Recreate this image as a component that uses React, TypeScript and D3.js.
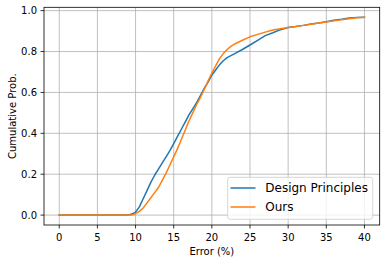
import React from "react";
import * as d3 from "d3";

const designX = [0, 9, 9.5, 10, 10.5, 11, 11.5, 12, 12.5, 13, 13.5, 14, 14.5, 15, 15.5, 16, 16.5, 17, 17.5, 18, 18.5, 19, 19.5, 20, 20.5, 21, 21.5, 22, 23, 24, 25, 26, 27, 28, 29, 30, 31, 32, 33, 34, 35, 36, 37, 38, 39, 40];
const designY = [0, 0, 0.005, 0.015, 0.04, 0.08, 0.12, 0.16, 0.195, 0.225, 0.255, 0.285, 0.315, 0.35, 0.385, 0.42, 0.455, 0.49, 0.52, 0.55, 0.585, 0.62, 0.65, 0.685, 0.71, 0.735, 0.755, 0.77, 0.79, 0.81, 0.832, 0.855, 0.878, 0.892, 0.907, 0.918, 0.922, 0.928, 0.935, 0.94, 0.946, 0.953, 0.958, 0.964, 0.967, 0.968];

const oursX = [0, 9.5, 10, 10.5, 11, 11.5, 12, 12.5, 13, 13.5, 14, 14.5, 15, 15.5, 16, 16.5, 17, 17.5, 18, 18.5, 19, 19.5, 20, 20.5, 21, 21.5, 22, 22.5, 23, 24, 25, 26, 27, 28, 29, 30, 31, 32, 33, 34, 35, 36, 37, 38, 39, 40];
const oursY = [0, 0, 0.007, 0.018, 0.035, 0.06, 0.085, 0.11, 0.135, 0.17, 0.205, 0.245, 0.285, 0.325, 0.37, 0.415, 0.46, 0.5, 0.54, 0.575, 0.615, 0.655, 0.695, 0.73, 0.765, 0.79, 0.81, 0.825, 0.837, 0.855, 0.872, 0.884, 0.895, 0.905, 0.912, 0.918, 0.923, 0.928, 0.933, 0.94, 0.945, 0.95, 0.955, 0.96, 0.965, 0.967];

const xTicks = [0, 5, 10, 15, 20, 25, 30, 35, 40];
const yTicks = [0.0, 0.2, 0.4, 0.6, 0.8, 1.0];
const seriesNames = ["Design Principles", "Ours"];
const colors = ["#1f77b4", "#ff7f0e"];

export default function App() {
  const W = 386, H = 263;
  const left = 44, right = 379.7, top = 7.3, bottom = 225;
  const x = d3.scaleLinear().domain([-2, 42]).range([left, right]);
  const y = d3.scaleLinear().domain([-0.0484, 1.0164]).range([bottom, top]);
  const line = d3.line<[number, number]>().x(d => x(d[0])).y(d => y(d[1]));
  const series = [
    designX.map((v, i) => [v, designY[i]] as [number, number]),
    oursX.map((v, i) => [v, oursY[i]] as [number, number]),
  ];
  const font = "DejaVu Sans, sans-serif";
  const legX = 227.7, legY = 177.3, legW = 145, legH = 42;
  return (
    <svg width={W} height={H} style={{ position: "absolute", left: 0, top: 0, background: "#fff" }} fontFamily={font}>
      <rect x={0} y={0} width={W} height={H} fill="#fff" />
      {xTicks.map(t => (
        <line key={"gx" + t} x1={x(t)} x2={x(t)} y1={top} y2={bottom} stroke="#b0b0b0" strokeWidth={0.8} />
      ))}
      {yTicks.map(t => (
        <line key={"gy" + t} x1={left} x2={right} y1={y(t)} y2={y(t)} stroke="#b0b0b0" strokeWidth={0.8} />
      ))}
      {series.map((s, i) => (
        <path key={i} d={line(s) || ""} fill="none" stroke={colors[i]} strokeWidth={1.5} strokeLinejoin="round" strokeLinecap="square" />
      ))}
      <rect x={left} y={top} width={right - left} height={bottom - top} fill="none" stroke="#000" strokeWidth={0.8} />
      {xTicks.map(t => (
        <g key={"tx" + t}>
          <line x1={x(t)} x2={x(t)} y1={bottom} y2={bottom + 3.5} stroke="#000" strokeWidth={0.8} />
          <text x={x(t)} y={240.5} fontSize={10} textAnchor="middle" fill="#000">{t}</text>
        </g>
      ))}
      {yTicks.map(t => (
        <g key={"ty" + t}>
          <line x1={left - 3.5} x2={left} y1={y(t)} y2={y(t)} stroke="#000" strokeWidth={0.8} />
          <text x={37} y={y(t) + 3.6} fontSize={10} textAnchor="end" fill="#000">{t.toFixed(1)}</text>
        </g>
      ))}
      <text x={(left + right) / 2} y={254.5} fontSize={10} textAnchor="middle" fill="#000">Error (%)</text>
      <text transform={`translate(15.5, ${(top + bottom) / 2}) rotate(-90)`} fontSize={10} textAnchor="middle" fill="#000">Cumulative Prob.</text>
      <rect x={legX} y={legY} width={legW} height={legH} rx={2.5} fill="#fff" fillOpacity={0.8} stroke="#cccccc" strokeWidth={0.8} />
      {seriesNames.map((n, i) => (
        <g key={n}>
          <line x1={230.5} x2={255.5} y1={188 + i * 19} y2={188 + i * 19} stroke={colors[i]} strokeWidth={1.5} />
          <text x={265.3} y={188 + i * 19 + 4.4} fontSize={12} fill="#000">{n}</text>
        </g>
      ))}
    </svg>
  );
}
